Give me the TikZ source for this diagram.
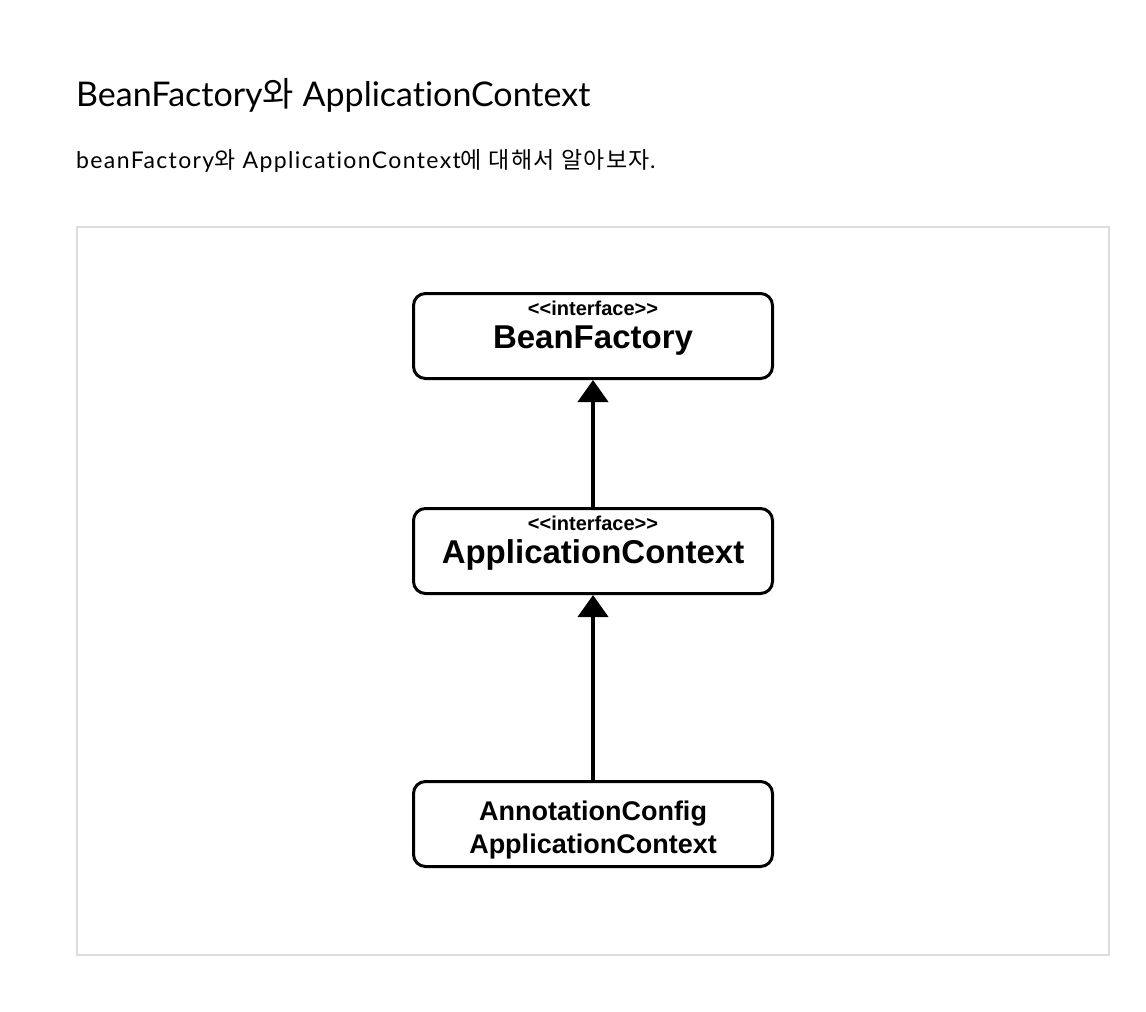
\documentclass[tikz,border=0pt]{standalone}
\usepackage{fontspec}
\setmainfont{Lato}[Ligatures=NoCommon]
\newfontfamily\krfont{Noto Sans CJK KR}
\newfontfamily\boxfont{Liberation Sans}
\usetikzlibrary{arrows.meta, positioning}
\definecolor{framegray}{HTML}{DDDDDD}

\begin{document}
\begin{tikzpicture}[x=1pt, y=-1pt,
    classbox/.style={draw, line width=3pt, rounded corners=12pt, minimum width=359pt,
        minimum height=85pt, inner sep=0pt},
    stereo/.style={anchor=base, inner sep=0pt, font=\boxfont\bfseries\fontsize{20}{20}\selectfont},
    bigname/.style={anchor=base, inner sep=0pt, font=\boxfont\bfseries\fontsize{33}{33}\selectfont},
    smallname/.style={anchor=base, inner sep=0pt, font=\boxfont\bfseries\fontsize{27}{27}\selectfont},
    inherit/.style={line width=4pt, -{Triangle[width=30pt, length=22pt]}}]
    \useasboundingbox (0,0) rectangle (1146,1012);

    % heading and intro line
    \node [anchor=base west, inner sep=0pt, font=\fontsize{34}{34}\selectfont] (Tt) at (76,106)
        {BeanFactory{\krfont 와} ApplicationContext};
    \node [anchor=base west, inner sep=0pt,
        font=\fontsize{23}{23}\selectfont\addfontfeatures{LetterSpace=6}] (St) at (76,168)
        {beanFactory{\krfont\addfontfeatures{LetterSpace=6}와} ApplicationContext{\krfont\addfontfeatures{LetterSpace=6}에 대해서 알아보자}.};

    % frame round the diagram
    \draw [framegray, line width=2pt] (77,227) rectangle (1109,955);

    % the three classes
    \node [classbox] (BF) at (593,336) {};
    \node [stereo] (BFs) at (593,315) {<<interface>>};
    \node [bigname] (BFn) at (593,348) {BeanFactory};

    \node [classbox] (AC) at (593,551) {};
    \node [stereo] (ACs) at (593,530) {<<interface>>};
    \node [bigname] (ACn) at (593,563) {ApplicationContext};

    \node [classbox] (AN) at (593,824) {};
    \node [smallname] (ANa) at (593,820) {AnnotationConfig};
    \node [smallname] (ANb) at (593,853) {ApplicationContext};

    % inheritance arrows
    \draw [inherit] (AC.north) -- (BF.south);
    \draw [inherit] (AN.north) -- (AC.south);
\end{tikzpicture}
\end{document}
